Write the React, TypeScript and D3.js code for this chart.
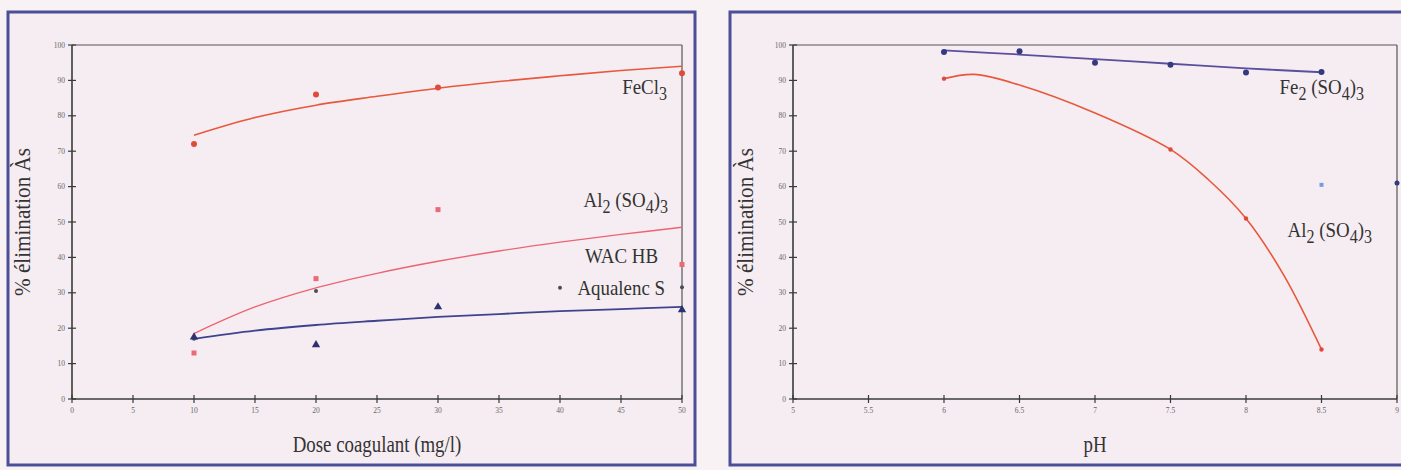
import React from "react";
import * as d3 from "d3";

// ---------- Data: left chart (dose coagulant) ----------
const doseTicks = [0, 5, 10, 15, 20, 25, 30, 35, 40, 45, 50];
const pctTicks = [0, 10, 20, 30, 40, 50, 60, 70, 80, 90, 100];
const trendDose = [10, 15, 20, 25, 30, 35, 40, 45, 50];

const fecl3Dose = [10, 20, 30, 50];
const fecl3Pts = [72, 86, 88, 92];
const fecl3Trend = [74.5, 79.5, 83, 85.5, 87.8, 89.7, 91.3, 92.8, 94];

const al2LeftDose = [10, 20, 30, 50];
const al2LeftPts = [13, 34, 53.5, 38];
const al2LeftTrend = [18.5, 26, 31.4, 35.5, 38.9, 41.8, 44.3, 46.5, 48.5];

const wacDose = [10, 20, 40, 50];
const wacPts = [17, 30.5, 31.4, 31.6];

const aqualencDose = [10, 20, 30, 50];
const aqualencPts = [17.5, 15.3, 26, 25.2];
const aqualencTrend = [17, 19.3, 20.9, 22.1, 23.2, 24.0, 24.8, 25.4, 26];

// ---------- Data: right chart (pH) ----------
const phTicks = [5, 5.5, 6, 6.5, 7, 7.5, 8, 8.5, 9];
const phTickLabels = ["5", "5.5", "6", "6.5", "7", "7.5", "8", "8.5", "9"];

const fe2Ph = [6, 6.5, 7, 7.5, 8, 8.5];
const fe2Pts = [98, 98.2, 95, 94.4, 92.2, 92.4];
const fe2TrendPh = [6, 6.5, 7, 7.5, 8, 8.5];
const fe2Trend = [98.5, 97.3, 96.0, 94.7, 93.4, 92.3];

const al2RightPh = [6, 6.2, 6.5, 7, 7.5, 7.75, 8, 8.25, 8.5];
const al2RightCurve = [90.5, 91.7, 88.7, 80.8, 70.5, 62, 51, 35, 14];
const al2RightMarkPh = [6, 7.5, 8, 8.5];
const al2RightMarks = [90.5, 70.5, 51, 14];

const extraPh = [8.5, 9];
const extraPts = [60.5, 61];

const BG = "#f6edf2";
const FRAME = "#4b4f98";
const AXIS = "#3a3a3a";
const TICK_TXT = "#666";
const SERIF = "'Liberation Serif', 'DejaVu Serif', serif";

type PanelProps = {
  x: d3.ScaleLinear<number, number>;
  y: d3.ScaleLinear<number, number>;
  xTicks: number[];
  xLabels: string[];
  xTitle: string;
  yTitleX: number;
};

function Axes({ x, y, xTicks, xLabels, xTitle, yTitleX }: PanelProps) {
  const [x0, x1] = x.range();
  const [y0, y1] = y.range();
  const cx = (x0 + x1) / 2;
  const cy = (y0 + y1) / 2;
  return (
    <g>
      <line x1={x0} x2={x1} y1={y1} y2={y1} stroke="#555" strokeWidth={1.2} />
      <line x1={x1} x2={x1} y1={y1} y2={y0} stroke="#555" strokeWidth={1.2} />
      <line x1={x0} x2={x1} y1={y0} y2={y0} stroke={AXIS} strokeWidth={1.6} />
      <line x1={x0} x2={x0} y1={y0} y2={y1} stroke={AXIS} strokeWidth={1.6} />
      {pctTicks.map((t) => (
        <g key={"y" + t}>
          <line x1={x0 - 4} x2={x0 + 4} y1={y(t)} y2={y(t)} stroke={AXIS} strokeWidth={1.2} />
          <text x={x0 - 7} y={y(t) + 2.5} textAnchor="end" fontSize={7.5} fill={TICK_TXT} fontFamily={SERIF}>
            {t}
          </text>
        </g>
      ))}
      {xTicks.map((t, i) => (
        <g key={"x" + t}>
          <line x1={x(t)} x2={x(t)} y1={y0 - 4} y2={y0 + 4} stroke={AXIS} strokeWidth={1.2} />
          <text x={x(t)} y={y0 + 14} textAnchor="middle" fontSize={7.5} fill={TICK_TXT} fontFamily={SERIF}>
            {xLabels[i]}
          </text>
        </g>
      ))}
      <g transform={`translate(${cx},452) scale(0.82,1)`}>
        <text x={0} y={0} textAnchor="middle" fontSize={23} fill="#333" fontFamily={SERIF}>
          {xTitle}
        </text>
      </g>
      <g transform={`translate(${yTitleX},${cy}) rotate(-90) scale(0.92,1)`}>
        <text x={0} y={0} textAnchor="middle" fontSize={23} fill="#333" fontFamily={SERIF}>
          % élimination Às
        </text>
      </g>
    </g>
  );
}

function Chem({ x, y, parts, size = 21 }: { x: number; y: number; parts: [string, string][]; size?: number }) {
  return (
    <g transform={`translate(${x},${y}) scale(0.9,1)`}>
      <text x={0} y={0} fontSize={size} fill="#333" fontFamily={SERIF} textAnchor="end">
        {parts.map(([t, kind], i) =>
          kind === "sub" ? (
            <tspan key={i} fontSize={size * 0.85} dy={size * 0.3}>
              {t}
            </tspan>
          ) : (
            <tspan key={i} dy={i > 0 && parts[i - 1][1] === "sub" ? -size * 0.3 : 0}>
              {t}
            </tspan>
          )
        )}
      </text>
    </g>
  );
}

export default function App() {
  const yS = d3.scaleLinear().domain([0, 100]).range([399, 45]);
  const xL = d3.scaleLinear().domain([0, 50]).range([72, 682]);
  const xR = d3.scaleLinear().domain([5, 9]).range([793, 1397]);

  const lineL = (xs: number[], ys: number[]) =>
    d3
      .line<number>()
      .x((_, i) => xL(xs[i]))
      .y((v) => yS(v))
      .curve(d3.curveCatmullRom)(ys) as string;
  const lineR = (xs: number[], ys: number[]) =>
    d3
      .line<number>()
      .x((_, i) => xR(xs[i]))
      .y((v) => yS(v))
      .curve(d3.curveCatmullRom)(ys) as string;

  const tri = d3.symbol().type(d3.symbolTriangle).size(30)() as string;

  return (
    <svg
      width={1401}
      height={470}
      style={{ position: "absolute", left: 0, top: 0, background: "#f9f2f5" }}
    >
      <rect x={8} y={12} width={687} height={453} fill={BG} stroke={FRAME} strokeWidth={3} />
      <rect x={730} y={12} width={680} height={453} fill={BG} stroke={FRAME} strokeWidth={3} />

      {/* ----- Left chart ----- */}
      <Axes
        x={xL}
        y={yS}
        xTicks={doseTicks}
        xLabels={doseTicks.map(String)}
        xTitle="Dose coagulant (mg/l)"
        yTitleX={30}
      />
      <path d={lineL(trendDose, fecl3Trend)} fill="none" stroke="#e8583c" strokeWidth={1.6} />
      <path d={lineL(trendDose, al2LeftTrend)} fill="none" stroke="#ec6474" strokeWidth={1.4} />
      <path d={lineL(trendDose, aqualencTrend)} fill="none" stroke="#3f438f" strokeWidth={1.8} />
      {fecl3Pts.map((v, i) => (
        <circle key={"f" + i} cx={xL(fecl3Dose[i])} cy={yS(v)} r={3} fill="#e04a3a" />
      ))}
      {al2LeftPts.map((v, i) => (
        <rect key={"a" + i} x={xL(al2LeftDose[i]) - 2.5} y={yS(v) - 2.5} width={5} height={5} fill="#ec6a78" />
      ))}
      {wacPts.map((v, i) => (
        <circle key={"w" + i} cx={xL(wacDose[i])} cy={yS(v)} r={2} fill="#4a4a5a" />
      ))}
      {aqualencPts.map((v, i) => (
        <path key={"q" + i} d={tri} transform={`translate(${xL(aqualencDose[i])},${yS(v)})`} fill="#2c3170" />
      ))}
      <Chem x={667} y={94} parts={[["FeCl", "n"], ["3", "sub"]]} />
      <Chem x={668} y={207} parts={[["Al", "n"], ["2", "sub"], [" (SO", "n"], ["4", "sub"], [")", "n"], ["3", "sub"]]} />
      <Chem x={658} y={263} parts={[["WAC HB", "n"]]} />
      <Chem x={665} y={295} parts={[["Aqualenc S", "n"]]} />

      {/* ----- Right chart ----- */}
      <Axes x={xR} y={yS} xTicks={phTicks} xLabels={phTickLabels} xTitle="pH" yTitleX={753} />
      <path d={lineR(fe2TrendPh, fe2Trend)} fill="none" stroke="#5a4f9e" strokeWidth={1.8} />
      <path d={lineR(al2RightPh, al2RightCurve)} fill="none" stroke="#e8583c" strokeWidth={1.6} />
      {fe2Pts.map((v, i) => (
        <circle key={"e" + i} cx={xR(fe2Ph[i])} cy={yS(v)} r={3} fill="#343a80" />
      ))}
      {al2RightMarks.map((v, i) => (
        <circle key={"r" + i} cx={xR(al2RightMarkPh[i])} cy={yS(v)} r={2.2} fill="#e04a3a" />
      ))}
      <rect x={xR(extraPh[0]) - 2} y={yS(extraPts[0]) - 2} width={4} height={4} fill="#6f9fe0" />
      <circle cx={xR(extraPh[1])} cy={yS(extraPts[1])} r={2.5} fill="#343a80" />
      <Chem x={1364} y={94} parts={[["Fe", "n"], ["2", "sub"], [" (SO", "n"], ["4", "sub"], [")", "n"], ["3", "sub"]]} />
      <Chem x={1372} y={237} parts={[["Al", "n"], ["2", "sub"], [" (SO", "n"], ["4", "sub"], [")", "n"], ["3", "sub"]]} />
    </svg>
  );
}
